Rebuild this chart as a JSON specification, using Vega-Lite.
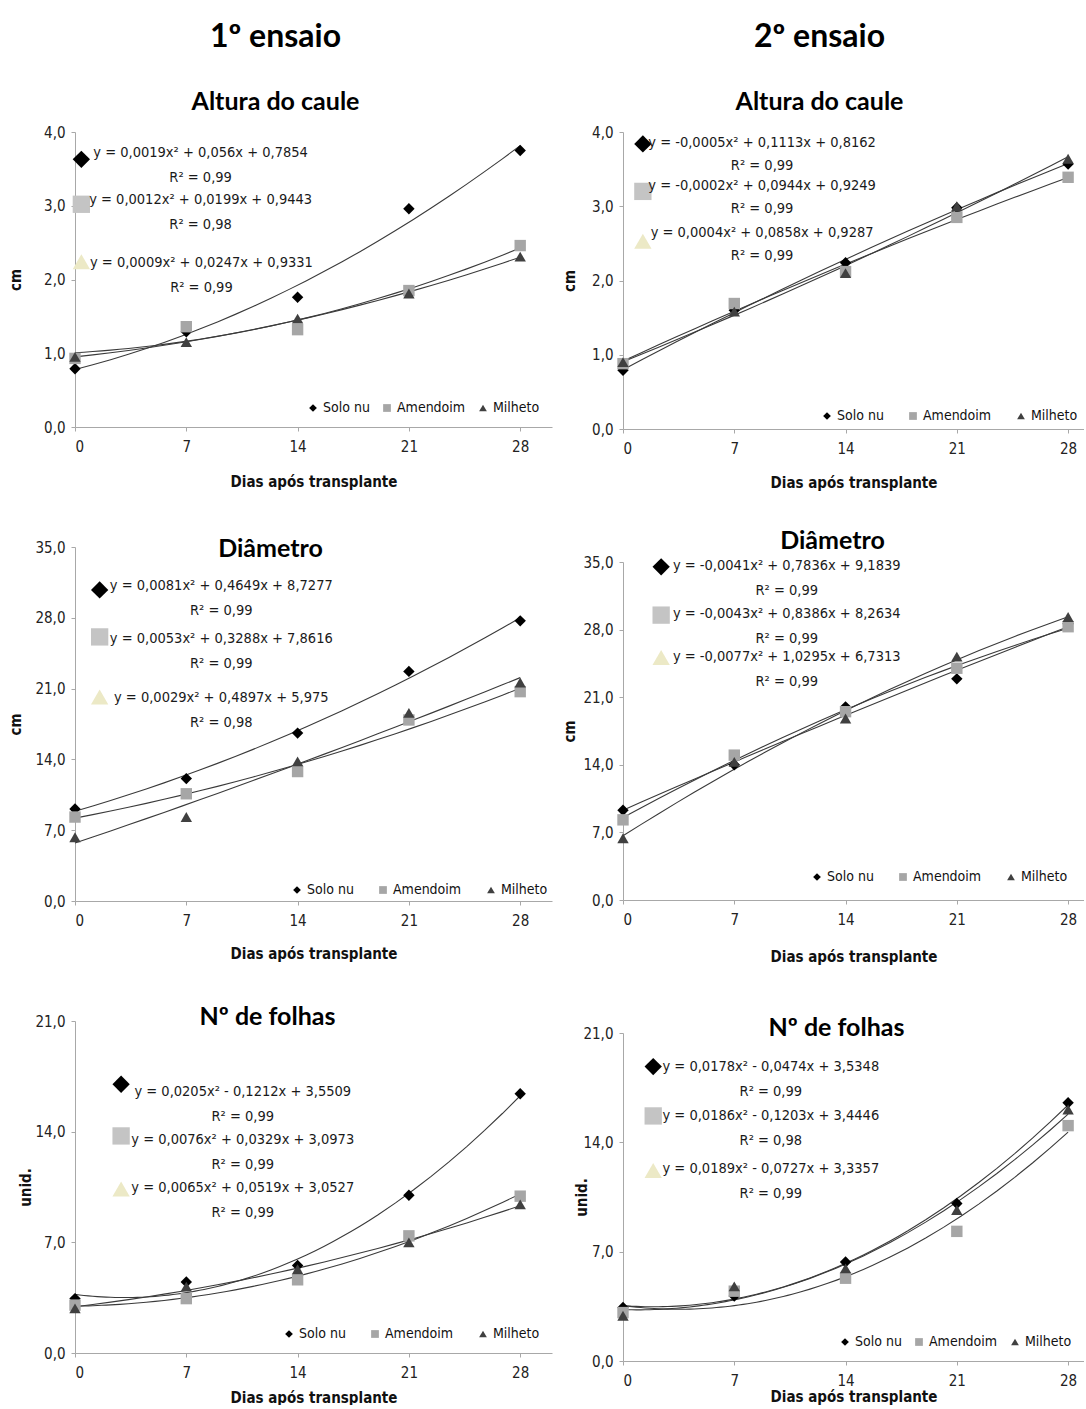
{
  "$schema": "https://vega.github.io/schema/vega-lite/v6.json",
  "padding": {"left": 8, "top": 21, "right": 0, "bottom": 0},
  "background": "white",
  "config": {
    "view": {"stroke": null},
    "font": "DejaVu Sans Condensed, sans-serif",
    "axis": {"grid": false, "domainColor": "#a8a8a8", "tickColor": "#a8a8a8", "tickSize": 4, "labelFont": "DejaVu Sans Condensed, sans-serif", "labelFontSize": 15, "labelColor": "#222222", "titleFont": "DejaVu Sans Condensed, sans-serif", "titleFontSize": 15, "titleFontWeight": "bold", "titleColor": "#111111"},
    "legend": {"labelFont": "DejaVu Sans Condensed, sans-serif", "labelFontSize": 14, "labelColor": "#111111"},
    "title": {"font": "Lato", "fontWeight": "bold", "color": "#000000", "subtitleFont": "Lato", "subtitleFontWeight": "bold", "subtitleColor": "#000000", "fontSize": 25, "anchor": "middle"},
    "text": {"font": "DejaVu Sans Condensed, sans-serif"}
  },
  "datasets": {
    "pts": [
      {"p": 1, "s": "Solo nu", "d": 0, "v": 0.79}, {"p": 1, "s": "Solo nu", "d": 7, "v": 1.29}, {"p": 1, "s": "Solo nu", "d": 14, "v": 1.76}, {"p": 1, "s": "Solo nu", "d": 21, "v": 2.96}, {"p": 1, "s": "Solo nu", "d": 28, "v": 3.75},
      {"p": 1, "s": "Amendoim", "d": 0, "v": 0.93}, {"p": 1, "s": "Amendoim", "d": 7, "v": 1.36}, {"p": 1, "s": "Amendoim", "d": 14, "v": 1.32}, {"p": 1, "s": "Amendoim", "d": 21, "v": 1.85}, {"p": 1, "s": "Amendoim", "d": 28, "v": 2.46},
      {"p": 1, "s": "Milheto", "d": 0, "v": 0.95}, {"p": 1, "s": "Milheto", "d": 7, "v": 1.15}, {"p": 1, "s": "Milheto", "d": 14, "v": 1.47}, {"p": 1, "s": "Milheto", "d": 21, "v": 1.81}, {"p": 1, "s": "Milheto", "d": 28, "v": 2.31},
      {"p": 2, "s": "Solo nu", "d": 0, "v": 0.79}, {"p": 2, "s": "Solo nu", "d": 7, "v": 1.6}, {"p": 2, "s": "Solo nu", "d": 14, "v": 2.24}, {"p": 2, "s": "Solo nu", "d": 21, "v": 2.98}, {"p": 2, "s": "Solo nu", "d": 28, "v": 3.57},
      {"p": 2, "s": "Amendoim", "d": 0, "v": 0.88}, {"p": 2, "s": "Amendoim", "d": 7, "v": 1.69}, {"p": 2, "s": "Amendoim", "d": 14, "v": 2.12}, {"p": 2, "s": "Amendoim", "d": 21, "v": 2.85}, {"p": 2, "s": "Amendoim", "d": 28, "v": 3.39},
      {"p": 2, "s": "Milheto", "d": 0, "v": 0.9}, {"p": 2, "s": "Milheto", "d": 7, "v": 1.58}, {"p": 2, "s": "Milheto", "d": 14, "v": 2.1}, {"p": 2, "s": "Milheto", "d": 21, "v": 3.0}, {"p": 2, "s": "Milheto", "d": 28, "v": 3.64},
      {"p": 3, "s": "Solo nu", "d": 0, "v": 9.1}, {"p": 3, "s": "Solo nu", "d": 7, "v": 12.1}, {"p": 3, "s": "Solo nu", "d": 14, "v": 16.6}, {"p": 3, "s": "Solo nu", "d": 21, "v": 22.7}, {"p": 3, "s": "Solo nu", "d": 28, "v": 27.7},
      {"p": 3, "s": "Amendoim", "d": 0, "v": 8.3}, {"p": 3, "s": "Amendoim", "d": 7, "v": 10.6}, {"p": 3, "s": "Amendoim", "d": 14, "v": 12.8}, {"p": 3, "s": "Amendoim", "d": 21, "v": 17.9}, {"p": 3, "s": "Amendoim", "d": 28, "v": 20.7},
      {"p": 3, "s": "Milheto", "d": 0, "v": 6.3}, {"p": 3, "s": "Milheto", "d": 7, "v": 8.3}, {"p": 3, "s": "Milheto", "d": 14, "v": 13.8}, {"p": 3, "s": "Milheto", "d": 21, "v": 18.6}, {"p": 3, "s": "Milheto", "d": 28, "v": 21.6},
      {"p": 4, "s": "Solo nu", "d": 0, "v": 9.3}, {"p": 4, "s": "Solo nu", "d": 7, "v": 14.0}, {"p": 4, "s": "Solo nu", "d": 14, "v": 20.0}, {"p": 4, "s": "Solo nu", "d": 21, "v": 22.9}, {"p": 4, "s": "Solo nu", "d": 28, "v": 28.6},
      {"p": 4, "s": "Amendoim", "d": 0, "v": 8.3}, {"p": 4, "s": "Amendoim", "d": 7, "v": 15.0}, {"p": 4, "s": "Amendoim", "d": 14, "v": 19.5}, {"p": 4, "s": "Amendoim", "d": 21, "v": 24.0}, {"p": 4, "s": "Amendoim", "d": 28, "v": 28.3},
      {"p": 4, "s": "Milheto", "d": 0, "v": 6.4}, {"p": 4, "s": "Milheto", "d": 7, "v": 14.3}, {"p": 4, "s": "Milheto", "d": 14, "v": 18.8}, {"p": 4, "s": "Milheto", "d": 21, "v": 25.2}, {"p": 4, "s": "Milheto", "d": 28, "v": 29.3},
      {"p": 5, "s": "Solo nu", "d": 0, "v": 3.44}, {"p": 5, "s": "Solo nu", "d": 7, "v": 4.49}, {"p": 5, "s": "Solo nu", "d": 14, "v": 5.53}, {"p": 5, "s": "Solo nu", "d": 21, "v": 9.98}, {"p": 5, "s": "Solo nu", "d": 28, "v": 16.4},
      {"p": 5, "s": "Amendoim", "d": 0, "v": 3.03}, {"p": 5, "s": "Amendoim", "d": 7, "v": 3.44}, {"p": 5, "s": "Amendoim", "d": 14, "v": 4.63}, {"p": 5, "s": "Amendoim", "d": 21, "v": 7.41}, {"p": 5, "s": "Amendoim", "d": 28, "v": 9.92},
      {"p": 5, "s": "Milheto", "d": 0, "v": 2.82}, {"p": 5, "s": "Milheto", "d": 7, "v": 4.2}, {"p": 5, "s": "Milheto", "d": 14, "v": 5.3}, {"p": 5, "s": "Milheto", "d": 21, "v": 7.0}, {"p": 5, "s": "Milheto", "d": 28, "v": 9.4},
      {"p": 6, "s": "Solo nu", "d": 0, "v": 3.43}, {"p": 6, "s": "Solo nu", "d": 7, "v": 4.16}, {"p": 6, "s": "Solo nu", "d": 14, "v": 6.34}, {"p": 6, "s": "Solo nu", "d": 21, "v": 10.08}, {"p": 6, "s": "Solo nu", "d": 28, "v": 16.53},
      {"p": 6, "s": "Amendoim", "d": 0, "v": 3.1}, {"p": 6, "s": "Amendoim", "d": 7, "v": 4.47}, {"p": 6, "s": "Amendoim", "d": 14, "v": 5.3}, {"p": 6, "s": "Amendoim", "d": 21, "v": 8.3}, {"p": 6, "s": "Amendoim", "d": 28, "v": 15.07},
      {"p": 6, "s": "Milheto", "d": 0, "v": 2.9}, {"p": 6, "s": "Milheto", "d": 7, "v": 4.78}, {"p": 6, "s": "Milheto", "d": 14, "v": 5.93}, {"p": 6, "s": "Milheto", "d": 21, "v": 9.67}, {"p": 6, "s": "Milheto", "d": 28, "v": 16.1}
    ],
    "eq": [
      {"p": 1, "s": "Solo nu", "t": "y = 0,0019x² + 0,056x + 0,7854\nR² = 0,99", "tx": 7.9, "ty": 3.81, "ix": 0.4, "iy": 3.63},
      {"p": 1, "s": "Amendoim", "t": "y = 0,0012x² + 0,0199x + 0,9443\nR² = 0,98", "tx": 7.9, "ty": 3.17, "ix": 0.4, "iy": 3.02},
      {"p": 1, "s": "Milheto", "t": "y = 0,0009x² + 0,0247x + 0,9331\nR² = 0,99", "tx": 7.95, "ty": 2.32, "ix": 0.4, "iy": 2.24},
      {"p": 2, "s": "Solo nu", "t": "y = -0,0005x² + 0,1113x + 0,8162\nR² = 0,99", "tx": 8.75, "ty": 3.95, "ix": 1.25, "iy": 3.84},
      {"p": 2, "s": "Amendoim", "t": "y = -0,0002x² + 0,0944x + 0,9249\nR² = 0,99", "tx": 8.75, "ty": 3.37, "ix": 1.25, "iy": 3.2},
      {"p": 2, "s": "Milheto", "t": "y = 0,0004x² + 0,0858x + 0,9287\nR² = 0,99", "tx": 8.75, "ty": 2.73, "ix": 1.25, "iy": 2.53},
      {"p": 3, "s": "Solo nu", "t": "y = 0,0081x² + 0,4649x + 8,7277\nR² = 0,99", "tx": 9.2, "ty": 31.85, "ix": 1.55, "iy": 30.76},
      {"p": 3, "s": "Amendoim", "t": "y = 0,0053x² + 0,3288x + 7,8616\nR² = 0,99", "tx": 9.2, "ty": 26.6, "ix": 1.55, "iy": 26.11},
      {"p": 3, "s": "Milheto", "t": "y = 0,0029x² + 0,4897x + 5,975\nR² = 0,98", "tx": 9.2, "ty": 20.77, "ix": 1.55, "iy": 20.18},
      {"p": 4, "s": "Solo nu", "t": "y = -0,0041x² + 0,7836x + 9,1839\nR² = 0,99", "tx": 10.3, "ty": 35.3, "ix": 2.4, "iy": 34.5},
      {"p": 4, "s": "Amendoim", "t": "y = -0,0043x² + 0,8386x + 8,2634\nR² = 0,99", "tx": 10.3, "ty": 30.3, "ix": 2.4, "iy": 29.5},
      {"p": 4, "s": "Milheto", "t": "y = -0,0077x² + 1,0295x + 6,7313\nR² = 0,99", "tx": 10.3, "ty": 25.9, "ix": 2.4, "iy": 25.1},
      {"p": 5, "s": "Solo nu", "t": "y = 0,0205x² - 0,1212x + 3,5509\nR² = 0,99", "tx": 10.55, "ty": 16.95, "ix": 2.9, "iy": 17.0},
      {"p": 5, "s": "Amendoim", "t": "y = 0,0076x² + 0,0329x + 3,0973\nR² = 0,99", "tx": 10.55, "ty": 13.9, "ix": 2.9, "iy": 13.73},
      {"p": 5, "s": "Milheto", "t": "y = 0,0065x² + 0,0519x + 3,0527\nR² = 0,99", "tx": 10.55, "ty": 10.88, "ix": 2.9, "iy": 10.37},
      {"p": 6, "s": "Solo nu", "t": "y = 0,0178x² - 0,0474x + 3,5348\nR² = 0,99", "tx": 9.3, "ty": 19.29, "ix": 1.9, "iy": 18.85},
      {"p": 6, "s": "Amendoim", "t": "y = 0,0186x² - 0,1203x + 3,4446\nR² = 0,98", "tx": 9.3, "ty": 16.13, "ix": 1.9, "iy": 15.69},
      {"p": 6, "s": "Milheto", "t": "y = 0,0189x² - 0,0727x + 3,3357\nR² = 0,99", "tx": 9.3, "ty": 12.71, "ix": 1.9, "iy": 12.2}
    ]
  },
  "hconcat": [
    {
      "spacing": 120,
      "bounds": "flush",
      "resolve": {"scale": {"x": "independent", "y": "independent", "color": "independent", "shape": "independent"}},
      "vconcat": [
        {
          "width": 477, "height": 295,
          "title": {"text": "1º ensaio", "subtitle": "Altura do caule", "fontSize": 32, "subtitleFontSize": 25, "subtitlePadding": 36, "offset": 9, "dx": -38},
          "layer": [
            {"data": {"name": "pts"}, "transform": [{"filter": "datum.p == 1"}, {"regression": "v", "on": "d", "groupby": ["s"], "method": "poly", "order": 2}],
             "mark": {"type": "line", "color": "#3a3a3a", "strokeWidth": 1.1},
             "encoding": {
               "x": {"field": "d", "type": "quantitative", "scale": {"domain": [0, 30], "nice": false}, "axis": {"values": [0, 7, 14, 21, 28], "title": "Dias após transplante", "titleY": 47, "labelPadding": 8}},
               "y": {"field": "v", "type": "quantitative", "scale": {"domain": [0, 4], "nice": false}, "axis": {"values": [0, 1, 2, 3, 4], "labelExpr": "replace(format(datum.value, '.1f'), '.', ',')", "title": "cm", "titleX": -52, "labelPadding": 6}},
               "detail": {"field": "s", "type": "nominal"}}},
            {"data": {"name": "pts"}, "transform": [{"filter": "datum.p == 1"}],
             "mark": {"type": "point", "filled": true, "size": 130, "opacity": 1},
             "encoding": {
               "x": {"field": "d", "type": "quantitative", "scale": {"domain": [0, 30], "nice": false}},
               "y": {"field": "v", "type": "quantitative", "scale": {"domain": [0, 4], "nice": false}},
               "shape": {"field": "s", "type": "nominal", "scale": {"domain": ["Solo nu", "Amendoim", "Milheto"], "range": ["diamond", "square", "triangle-up"]}, "legend": {"orient": "bottom-right", "direction": "horizontal", "title": null, "offset": 12, "symbolSize": 60, "columnPadding": 10, "labelOffset": 3}},
               "color": {"field": "s", "type": "nominal", "scale": {"domain": ["Solo nu", "Amendoim", "Milheto"], "range": ["#000000", "#a6a6a6", "#404040"]}, "legend": {"orient": "bottom-right", "direction": "horizontal", "title": null, "offset": 12, "symbolSize": 60, "columnPadding": 10, "labelOffset": 3}}}},
            {"data": {"name": "eq"}, "transform": [{"filter": "datum.p == 1"}],
             "mark": {"type": "point", "filled": true, "size": 300, "opacity": 1},
             "encoding": {
               "x": {"field": "ix", "type": "quantitative", "scale": {"domain": [0, 30], "nice": false}},
               "y": {"field": "iy", "type": "quantitative", "scale": {"domain": [0, 4], "nice": false}},
               "shape": {"field": "s", "type": "nominal", "legend": null},
               "fill": {"condition": [{"test": "datum.s === 'Solo nu'", "value": "#000000"}, {"test": "datum.s === 'Amendoim'", "value": "#c4c4c4"}], "value": "#ece9c6"}}},
            {"data": {"name": "eq"}, "transform": [{"filter": "datum.p == 1"}],
             "mark": {"type": "text", "lineBreak": "\n", "align": "center", "baseline": "top", "fontSize": 14.5, "lineHeight": 25, "color": "#1a1a1a"},
             "encoding": {
               "x": {"field": "tx", "type": "quantitative", "scale": {"domain": [0, 30], "nice": false}},
               "y": {"field": "ty", "type": "quantitative", "scale": {"domain": [0, 4], "nice": false}},
               "text": {"field": "t", "type": "nominal"}}}
          ]
        },
        {
          "width": 477, "height": 354,
          "title": {"text": "Diâmetro", "offset": -22, "dx": -43},
          "layer": [
            {"data": {"name": "pts"}, "transform": [{"filter": "datum.p == 3"}, {"regression": "v", "on": "d", "groupby": ["s"], "method": "poly", "order": 2}],
             "mark": {"type": "line", "color": "#3a3a3a", "strokeWidth": 1.1},
             "encoding": {
               "x": {"field": "d", "type": "quantitative", "scale": {"domain": [0, 30], "nice": false}, "axis": {"values": [0, 7, 14, 21, 28], "title": "Dias após transplante", "titleY": 45, "labelPadding": 8}},
               "y": {"field": "v", "type": "quantitative", "scale": {"domain": [0, 35], "nice": false}, "axis": {"values": [0, 7, 14, 21, 28, 35], "labelExpr": "replace(format(datum.value, '.1f'), '.', ',')", "title": "cm", "titleX": -52, "labelPadding": 6}},
               "detail": {"field": "s", "type": "nominal"}}},
            {"data": {"name": "pts"}, "transform": [{"filter": "datum.p == 3"}],
             "mark": {"type": "point", "filled": true, "size": 130, "opacity": 1},
             "encoding": {
               "x": {"field": "d", "type": "quantitative", "scale": {"domain": [0, 30], "nice": false}},
               "y": {"field": "v", "type": "quantitative", "scale": {"domain": [0, 35], "nice": false}},
               "shape": {"field": "s", "type": "nominal", "scale": {"domain": ["Solo nu", "Amendoim", "Milheto"], "range": ["diamond", "square", "triangle-up"]}, "legend": {"orient": "bottom-right", "direction": "horizontal", "title": null, "offset": 4, "symbolSize": 60, "columnPadding": 22, "labelOffset": 3}},
               "color": {"field": "s", "type": "nominal", "scale": {"domain": ["Solo nu", "Amendoim", "Milheto"], "range": ["#000000", "#a6a6a6", "#404040"]}, "legend": {"orient": "bottom-right", "direction": "horizontal", "title": null, "offset": 4, "symbolSize": 60, "columnPadding": 22, "labelOffset": 3}}}},
            {"data": {"name": "eq"}, "transform": [{"filter": "datum.p == 3"}],
             "mark": {"type": "point", "filled": true, "size": 300, "opacity": 1},
             "encoding": {
               "x": {"field": "ix", "type": "quantitative", "scale": {"domain": [0, 30], "nice": false}},
               "y": {"field": "iy", "type": "quantitative", "scale": {"domain": [0, 35], "nice": false}},
               "shape": {"field": "s", "type": "nominal", "legend": null},
               "fill": {"condition": [{"test": "datum.s === 'Solo nu'", "value": "#000000"}, {"test": "datum.s === 'Amendoim'", "value": "#c4c4c4"}], "value": "#ece9c6"}}},
            {"data": {"name": "eq"}, "transform": [{"filter": "datum.p == 3"}],
             "mark": {"type": "text", "lineBreak": "\n", "align": "center", "baseline": "top", "fontSize": 14.5, "lineHeight": 25, "color": "#1a1a1a"},
             "encoding": {
               "x": {"field": "tx", "type": "quantitative", "scale": {"domain": [0, 30], "nice": false}},
               "y": {"field": "ty", "type": "quantitative", "scale": {"domain": [0, 35], "nice": false}},
               "text": {"field": "t", "type": "nominal"}}}
          ]
        },
        {
          "width": 477, "height": 332,
          "title": {"text": "Nº de folhas", "offset": -16, "dx": -46},
          "layer": [
            {"data": {"name": "pts"}, "transform": [{"filter": "datum.p == 5"}, {"regression": "v", "on": "d", "groupby": ["s"], "method": "poly", "order": 2}],
             "mark": {"type": "line", "color": "#3a3a3a", "strokeWidth": 1.1},
             "encoding": {
               "x": {"field": "d", "type": "quantitative", "scale": {"domain": [0, 30], "nice": false}, "axis": {"values": [0, 7, 14, 21, 28], "title": "Dias após transplante", "titleY": 37, "labelPadding": 8}},
               "y": {"field": "v", "type": "quantitative", "scale": {"domain": [0, 21], "nice": false}, "axis": {"values": [0, 7, 14, 21], "labelExpr": "replace(format(datum.value, '.1f'), '.', ',')", "title": "unid.", "titleX": -42, "labelPadding": 6}},
               "detail": {"field": "s", "type": "nominal"}}},
            {"data": {"name": "pts"}, "transform": [{"filter": "datum.p == 5"}],
             "mark": {"type": "point", "filled": true, "size": 130, "opacity": 1},
             "encoding": {
               "x": {"field": "d", "type": "quantitative", "scale": {"domain": [0, 30], "nice": false}},
               "y": {"field": "v", "type": "quantitative", "scale": {"domain": [0, 21], "nice": false}},
               "shape": {"field": "s", "type": "nominal", "scale": {"domain": ["Solo nu", "Amendoim", "Milheto"], "range": ["diamond", "square", "triangle-up"]}, "legend": {"orient": "bottom-right", "direction": "horizontal", "title": null, "offset": 12, "symbolSize": 60, "columnPadding": 22, "labelOffset": 3}},
               "color": {"field": "s", "type": "nominal", "scale": {"domain": ["Solo nu", "Amendoim", "Milheto"], "range": ["#000000", "#a6a6a6", "#404040"]}, "legend": {"orient": "bottom-right", "direction": "horizontal", "title": null, "offset": 12, "symbolSize": 60, "columnPadding": 22, "labelOffset": 3}}}},
            {"data": {"name": "eq"}, "transform": [{"filter": "datum.p == 5"}],
             "mark": {"type": "point", "filled": true, "size": 300, "opacity": 1},
             "encoding": {
               "x": {"field": "ix", "type": "quantitative", "scale": {"domain": [0, 30], "nice": false}},
               "y": {"field": "iy", "type": "quantitative", "scale": {"domain": [0, 21], "nice": false}},
               "shape": {"field": "s", "type": "nominal", "legend": null},
               "fill": {"condition": [{"test": "datum.s === 'Solo nu'", "value": "#000000"}, {"test": "datum.s === 'Amendoim'", "value": "#c4c4c4"}], "value": "#ece9c6"}}},
            {"data": {"name": "eq"}, "transform": [{"filter": "datum.p == 5"}],
             "mark": {"type": "text", "lineBreak": "\n", "align": "center", "baseline": "top", "fontSize": 14.5, "lineHeight": 25, "color": "#1a1a1a"},
             "encoding": {
               "x": {"field": "tx", "type": "quantitative", "scale": {"domain": [0, 30], "nice": false}},
               "y": {"field": "ty", "type": "quantitative", "scale": {"domain": [0, 21], "nice": false}},
               "text": {"field": "t", "type": "nominal"}}}
          ]
        }
      ]
    },
    {
      "spacing": 133,
      "bounds": "flush",
      "resolve": {"scale": {"x": "independent", "y": "independent", "color": "independent", "shape": "independent"}},
      "vconcat": [
        {
          "width": 461, "height": 297,
          "title": {"text": "2º ensaio", "subtitle": "Altura do caule", "fontSize": 32, "subtitleFontSize": 25, "subtitlePadding": 36, "offset": 9, "dx": -34},
          "layer": [
            {"data": {"name": "pts"}, "transform": [{"filter": "datum.p == 2"}, {"regression": "v", "on": "d", "groupby": ["s"], "method": "poly", "order": 2}],
             "mark": {"type": "line", "color": "#3a3a3a", "strokeWidth": 1.1},
             "encoding": {
               "x": {"field": "d", "type": "quantitative", "scale": {"domain": [0, 29], "nice": false}, "axis": {"values": [0, 7, 14, 21, 28], "title": "Dias após transplante", "titleY": 46, "labelPadding": 8}},
               "y": {"field": "v", "type": "quantitative", "scale": {"domain": [0, 4], "nice": false}, "axis": {"values": [0, 1, 2, 3, 4], "labelExpr": "replace(format(datum.value, '.1f'), '.', ',')", "title": "cm", "titleX": -46, "labelPadding": 6}},
               "detail": {"field": "s", "type": "nominal"}}},
            {"data": {"name": "pts"}, "transform": [{"filter": "datum.p == 2"}],
             "mark": {"type": "point", "filled": true, "size": 130, "opacity": 1},
             "encoding": {
               "x": {"field": "d", "type": "quantitative", "scale": {"domain": [0, 29], "nice": false}},
               "y": {"field": "v", "type": "quantitative", "scale": {"domain": [0, 4], "nice": false}},
               "shape": {"field": "s", "type": "nominal", "scale": {"domain": ["Solo nu", "Amendoim", "Milheto"], "range": ["diamond", "square", "triangle-up"]}, "legend": {"orient": "bottom-right", "direction": "horizontal", "title": null, "offset": 6, "symbolSize": 60, "columnPadding": 22, "labelOffset": 3}},
               "color": {"field": "s", "type": "nominal", "scale": {"domain": ["Solo nu", "Amendoim", "Milheto"], "range": ["#000000", "#a6a6a6", "#404040"]}, "legend": {"orient": "bottom-right", "direction": "horizontal", "title": null, "offset": 6, "symbolSize": 60, "columnPadding": 22, "labelOffset": 3}}}},
            {"data": {"name": "eq"}, "transform": [{"filter": "datum.p == 2"}],
             "mark": {"type": "point", "filled": true, "size": 300, "opacity": 1},
             "encoding": {
               "x": {"field": "ix", "type": "quantitative", "scale": {"domain": [0, 29], "nice": false}},
               "y": {"field": "iy", "type": "quantitative", "scale": {"domain": [0, 4], "nice": false}},
               "shape": {"field": "s", "type": "nominal", "legend": null},
               "fill": {"condition": [{"test": "datum.s === 'Solo nu'", "value": "#000000"}, {"test": "datum.s === 'Amendoim'", "value": "#c4c4c4"}], "value": "#ece9c6"}}},
            {"data": {"name": "eq"}, "transform": [{"filter": "datum.p == 2"}],
             "mark": {"type": "text", "lineBreak": "\n", "align": "center", "baseline": "top", "fontSize": 14.5, "lineHeight": 23, "color": "#1a1a1a"},
             "encoding": {
               "x": {"field": "tx", "type": "quantitative", "scale": {"domain": [0, 29], "nice": false}},
               "y": {"field": "ty", "type": "quantitative", "scale": {"domain": [0, 4], "nice": false}},
               "text": {"field": "t", "type": "nominal"}}}
          ]
        },
        {
          "width": 461, "height": 338,
          "title": {"text": "Diâmetro", "offset": 1, "dx": -21},
          "layer": [
            {"data": {"name": "pts"}, "transform": [{"filter": "datum.p == 4"}, {"regression": "v", "on": "d", "groupby": ["s"], "method": "poly", "order": 2}],
             "mark": {"type": "line", "color": "#3a3a3a", "strokeWidth": 1.1},
             "encoding": {
               "x": {"field": "d", "type": "quantitative", "scale": {"domain": [0, 29], "nice": false}, "axis": {"values": [0, 7, 14, 21, 28], "title": "Dias após transplante", "titleY": 49, "labelPadding": 8}},
               "y": {"field": "v", "type": "quantitative", "scale": {"domain": [0, 35], "nice": false}, "axis": {"values": [0, 7, 14, 21, 28, 35], "labelExpr": "replace(format(datum.value, '.1f'), '.', ',')", "title": "cm", "titleX": -46, "labelPadding": 6}},
               "detail": {"field": "s", "type": "nominal"}}},
            {"data": {"name": "pts"}, "transform": [{"filter": "datum.p == 4"}],
             "mark": {"type": "point", "filled": true, "size": 130, "opacity": 1},
             "encoding": {
               "x": {"field": "d", "type": "quantitative", "scale": {"domain": [0, 29], "nice": false}},
               "y": {"field": "v", "type": "quantitative", "scale": {"domain": [0, 35], "nice": false}},
               "shape": {"field": "s", "type": "nominal", "scale": {"domain": ["Solo nu", "Amendoim", "Milheto"], "range": ["diamond", "square", "triangle-up"]}, "legend": {"orient": "bottom-right", "direction": "horizontal", "title": null, "offset": 16, "symbolSize": 60, "columnPadding": 22, "labelOffset": 3}},
               "color": {"field": "s", "type": "nominal", "scale": {"domain": ["Solo nu", "Amendoim", "Milheto"], "range": ["#000000", "#a6a6a6", "#404040"]}, "legend": {"orient": "bottom-right", "direction": "horizontal", "title": null, "offset": 16, "symbolSize": 60, "columnPadding": 22, "labelOffset": 3}}}},
            {"data": {"name": "eq"}, "transform": [{"filter": "datum.p == 4"}],
             "mark": {"type": "point", "filled": true, "size": 300, "opacity": 1},
             "encoding": {
               "x": {"field": "ix", "type": "quantitative", "scale": {"domain": [0, 29], "nice": false}},
               "y": {"field": "iy", "type": "quantitative", "scale": {"domain": [0, 35], "nice": false}},
               "shape": {"field": "s", "type": "nominal", "legend": null},
               "fill": {"condition": [{"test": "datum.s === 'Solo nu'", "value": "#000000"}, {"test": "datum.s === 'Amendoim'", "value": "#c4c4c4"}], "value": "#ece9c6"}}},
            {"data": {"name": "eq"}, "transform": [{"filter": "datum.p == 4"}],
             "mark": {"type": "text", "lineBreak": "\n", "align": "center", "baseline": "top", "fontSize": 14.5, "lineHeight": 25, "color": "#1a1a1a"},
             "encoding": {
               "x": {"field": "tx", "type": "quantitative", "scale": {"domain": [0, 29], "nice": false}},
               "y": {"field": "ty", "type": "quantitative", "scale": {"domain": [0, 35], "nice": false}},
               "text": {"field": "t", "type": "nominal"}}}
          ]
        },
        {
          "width": 461, "height": 328,
          "title": {"text": "Nº de folhas", "offset": -15, "dx": -17},
          "layer": [
            {"data": {"name": "pts"}, "transform": [{"filter": "datum.p == 6"}, {"regression": "v", "on": "d", "groupby": ["s"], "method": "poly", "order": 2}],
             "mark": {"type": "line", "color": "#3a3a3a", "strokeWidth": 1.1},
             "encoding": {
               "x": {"field": "d", "type": "quantitative", "scale": {"domain": [0, 29], "nice": false}, "axis": {"values": [0, 7, 14, 21, 28], "title": "Dias após transplante", "titleY": 28, "labelPadding": 8}},
               "y": {"field": "v", "type": "quantitative", "scale": {"domain": [0, 21], "nice": false}, "axis": {"values": [0, 7, 14, 21], "labelExpr": "replace(format(datum.value, '.1f'), '.', ',')", "title": "unid.", "titleX": -34, "labelPadding": 6}},
               "detail": {"field": "s", "type": "nominal"}}},
            {"data": {"name": "pts"}, "transform": [{"filter": "datum.p == 6"}],
             "mark": {"type": "point", "filled": true, "size": 130, "opacity": 1},
             "encoding": {
               "x": {"field": "d", "type": "quantitative", "scale": {"domain": [0, 29], "nice": false}},
               "y": {"field": "v", "type": "quantitative", "scale": {"domain": [0, 21], "nice": false}},
               "shape": {"field": "s", "type": "nominal", "scale": {"domain": ["Solo nu", "Amendoim", "Milheto"], "range": ["diamond", "square", "triangle-up"]}, "legend": {"orient": "bottom-right", "direction": "horizontal", "title": null, "offset": 12, "symbolSize": 60, "columnPadding": 10, "labelOffset": 3}},
               "color": {"field": "s", "type": "nominal", "scale": {"domain": ["Solo nu", "Amendoim", "Milheto"], "range": ["#000000", "#a6a6a6", "#404040"]}, "legend": {"orient": "bottom-right", "direction": "horizontal", "title": null, "offset": 12, "symbolSize": 60, "columnPadding": 10, "labelOffset": 3}}}},
            {"data": {"name": "eq"}, "transform": [{"filter": "datum.p == 6"}],
             "mark": {"type": "point", "filled": true, "size": 300, "opacity": 1},
             "encoding": {
               "x": {"field": "ix", "type": "quantitative", "scale": {"domain": [0, 29], "nice": false}},
               "y": {"field": "iy", "type": "quantitative", "scale": {"domain": [0, 21], "nice": false}},
               "shape": {"field": "s", "type": "nominal", "legend": null},
               "fill": {"condition": [{"test": "datum.s === 'Solo nu'", "value": "#000000"}, {"test": "datum.s === 'Amendoim'", "value": "#c4c4c4"}], "value": "#ece9c6"}}},
            {"data": {"name": "eq"}, "transform": [{"filter": "datum.p == 6"}],
             "mark": {"type": "text", "lineBreak": "\n", "align": "center", "baseline": "top", "fontSize": 14.5, "lineHeight": 25, "color": "#1a1a1a"},
             "encoding": {
               "x": {"field": "tx", "type": "quantitative", "scale": {"domain": [0, 29], "nice": false}},
               "y": {"field": "ty", "type": "quantitative", "scale": {"domain": [0, 21], "nice": false}},
               "text": {"field": "t", "type": "nominal"}}}
          ]
        }
      ]
    }
  ],
  "spacing": 10,
  "resolve": {"scale": {"x": "independent", "y": "independent", "color": "independent", "shape": "independent"}}
}
